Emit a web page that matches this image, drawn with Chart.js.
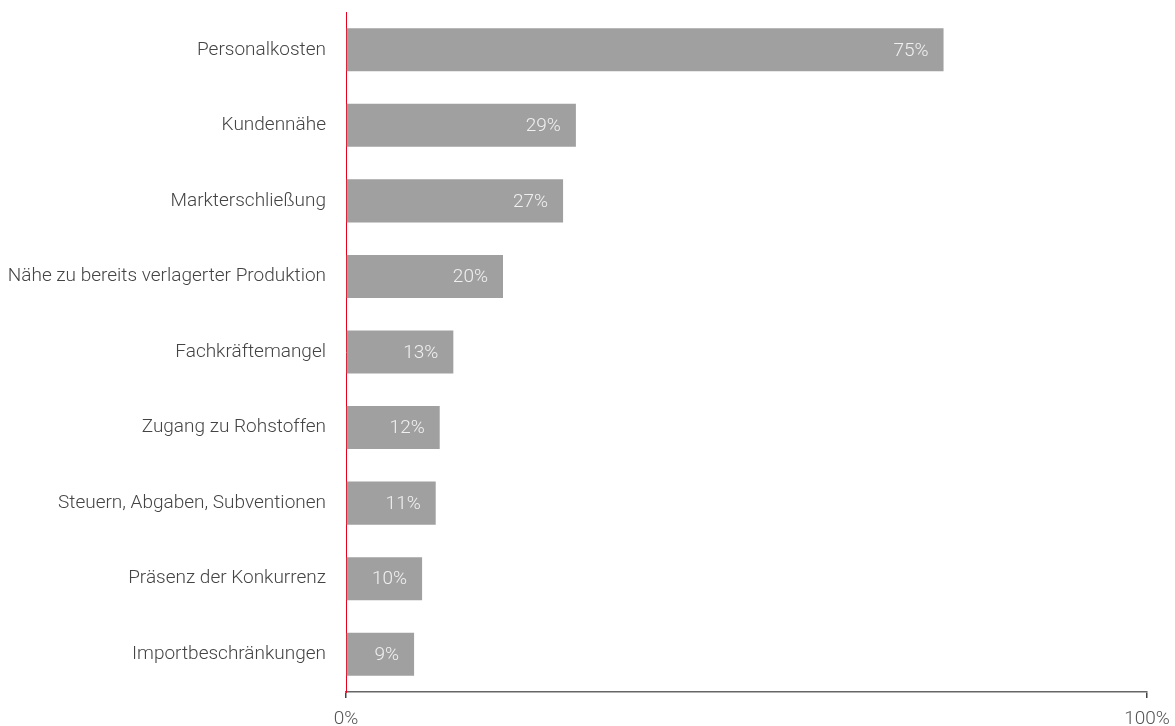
<!DOCTYPE html>
<html>
<head>
<meta charset="utf-8">
<script src="https://cdn.jsdelivr.net/npm/chart.js@4/dist/chart.umd.min.js"></script>
<style>
  html, body { margin: 0; padding: 0; background: #fff; }
  #wrap { width: 1175px; height: 726px; }
</style>
</head>
<body>
<div id="wrap"><canvas id="chart"></canvas></div>
<script>
const categories = [
    "Personalkosten",
    "Kundennähe",
    "Markterschließung",
    "Nähe zu bereits verlagerter Produktion",
    "Fachkräftemangel",
    "Zugang zu Rohstoffen",
    "Steuern, Abgaben, Subventionen",
    "Präsenz der Konkurrenz",
    "Importbeschränkungen"
];
const values = [74.6, 28.7, 27.1, 19.6, 13.4, 11.7, 11.2, 9.5, 8.5];
const valueLabels = ["75%", "29%", "27%", "20%", "13%", "12%", "11%", "10%", "9%"];
const tickLabels = { 0: "0%", 100: "100%" };

const FONT = "Roboto";

// draws the percentage inside each bar, right-aligned near its end
const barLabels = {
    id: "barLabels",
    afterDatasetsDraw(chart) {
        const ctx = chart.ctx;
        const meta = chart.getDatasetMeta(0);
        ctx.save();
        ctx.font = "300 19px " + FONT;
        ctx.fillStyle = "#f0f0f0";
        ctx.textAlign = "right";
        ctx.textBaseline = "middle";
        meta.data.forEach((bar, i) => {
            ctx.fillText(valueLabels[i], bar.x - 15, bar.y + 1);
        });
        ctx.restore();
    }
};

new Chart(document.getElementById("chart"), {
    type: "bar",
    data: {
        labels: categories,
        datasets: [{
            data: values,
            backgroundColor: "#a0a0a0",
            borderWidth: 0,
            barPercentage: 0.57,
            categoryPercentage: 1.0
        }]
    },
    plugins: [barLabels],
    options: {
        indexAxis: "y",
        responsive: true,
        maintainAspectRatio: false,
        animation: false,
        layout: { padding: { top: 12, right: 28, left: 0, bottom: 0 } },
        plugins: {
            legend: { display: false },
            tooltip: { enabled: false }
        },
        scales: {
            x: {
                min: 0,
                max: 100,
                ticks: {
                    stepSize: 100,
                    color: "#555",
                    font: { family: FONT, size: 19, weight: 300 },
                    padding: 10,
                    maxRotation: 0,
                    callback: v => tickLabels[v] ?? ""
                },
                grid: {
                    display: true,
                    drawOnChartArea: false,
                    drawTicks: true,
                    tickLength: 6,
                    color: "#444",
                    lineWidth: 1.5
                },
                border: { display: true, color: "#666", width: 1.5 },
                afterFit: s => { s.height = 34; s.paddingLeft = 0; s.paddingRight = 0; }
            },
            y: {
                ticks: {
                    color: "#444",
                    font: { family: FONT, size: 19, weight: 300 },
                    padding: 20
                },
                grid: { display: false, drawTicks: false },
                border: { display: true, color: "#e8001c", width: 1 },
                afterFit: s => { s.width = 346; s.paddingTop = 0; s.paddingBottom = 0; }
            }
        }
    }
});
</script>
</body>
</html>
